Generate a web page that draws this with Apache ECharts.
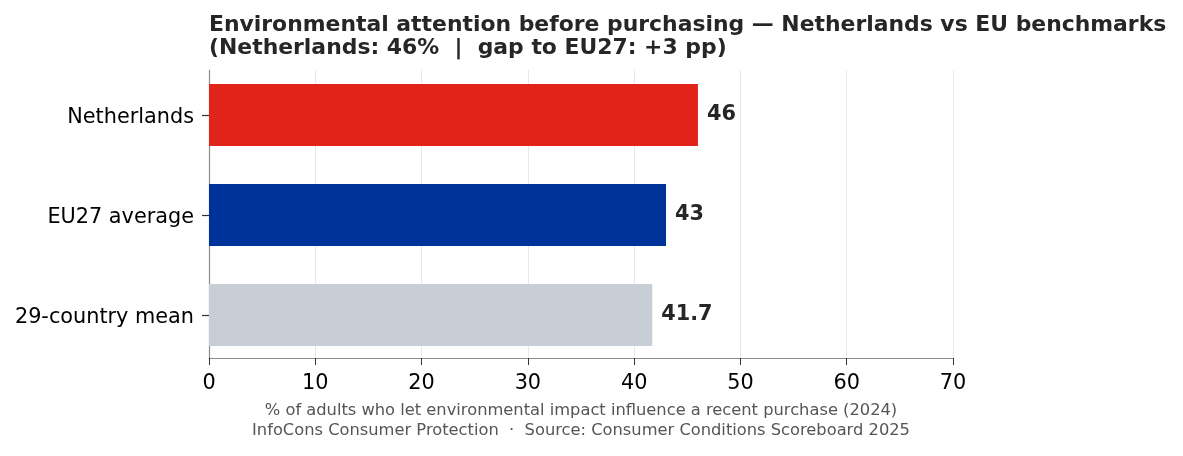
<!DOCTYPE html>
<html>
<head>
<meta charset="utf-8">
<script src="https://cdn.jsdelivr.net/npm/echarts@6/dist/echarts.min.js"></script>
<style>
    html, body { margin: 0; padding: 0; background: #ffffff; }
    #chart { width: 1183px; height: 456px; }
</style>
</head>
<body>
<div id="chart"></div>
<script>
var categories = ['Netherlands', 'EU27 average', '29-country mean']
var values = [46, 43, 41.7]
var barColors = ['#e2231a', '#003399', '#c8ced6']
var xTicks = [0, 10, 20, 30, 40, 50, 60, 70]

var chart = echarts.init(document.getElementById('chart'))
var font = 'DejaVu Sans'

let option = {
    animation: false,
    textStyle: { fontFamily: font },
    title: {
        text: 'Environmental attention before purchasing \u2014 Netherlands vs EU benchmarks\n(Netherlands: 46%  |  gap to EU27: +3 pp)',
        left: 204,
        top: 9,
        textStyle: {
            fontFamily: font,
            fontSize: 21.9,
            fontWeight: 'bold',
            color: '#262626',
            lineHeight: 23
        }
    },
    graphic: [
        {
            type: 'text',
            x: 581,
            y: 421,
            style: {
                text: '% of adults who let environmental impact influence a recent purchase (2024)\nInfoCons Consumer Protection  \u00b7  Source: Consumer Conditions Scoreboard 2025',
                align: 'center',
                verticalAlign: 'middle',
                font: '16.3px "DejaVu Sans"',
                lineHeight: 20,
                fill: '#555555'
            }
        }
    ],
    // grid 0 carries the frame (spines, x ticks, grid lines); grid 1 carries the bars
    grid: [
        { left: 209, right: 1183 - 953, top: 70, bottom: 456 - 358, containLabel: false },
        { left: 209, right: 1183 - 953, top: 65, bottom: 456 - 365, containLabel: false }
    ],
    xAxis: [
        {
            gridIndex: 0,
            type: 'value',
            min: xTicks[0],
            max: xTicks[xTicks.length - 1],
            interval: 10,
            axisLine: { show: true, lineStyle: { color: '#8c8c8c', width: 1.2 } },
            axisTick: { show: true, length: 7, lineStyle: { color: '#333333' } },
            axisLabel: { color: '#000000', fontSize: 20.8, margin: 15, fontFamily: font },
            splitLine: { show: true, lineStyle: { color: '#e8e8e8', width: 1 } }
        },
        {
            gridIndex: 1,
            type: 'value',
            min: xTicks[0],
            max: xTicks[xTicks.length - 1],
            show: false
        }
    ],
    yAxis: [
        {
            gridIndex: 0,
            type: 'value',
            min: 0,
            max: 1,
            axisLine: { show: true, lineStyle: { color: '#8c8c8c', width: 1.2 } },
            axisTick: { show: false },
            axisLabel: { show: false },
            splitLine: { show: false }
        },
        {
            gridIndex: 1,
            type: 'category',
            inverse: true,
            data: categories,
            axisLine: { show: false },
            axisTick: { show: true, alignWithLabel: true, length: 7, lineStyle: { color: '#333333', width: 1.2 } },
            axisLabel: {
                margin: 15,
                formatter: '{c|{value}}',
                rich: {
                    c: { color: '#000000', fontSize: 20.8, fontFamily: font, padding: [6, 0, 0, 0] }
                }
            },
            splitLine: { show: false }
        }
    ],
    series: [
        {
            type: 'bar',
            xAxisIndex: 1,
            yAxisIndex: 1,
            barWidth: 62,
            data: values.map(function (v, i) {
                return { value: v, itemStyle: { color: barColors[i] } }
            }),
            label: {
                show: true,
                position: 'right',
                distance: 9,
                color: '#262626',
                fontSize: 20.8,
                fontWeight: 'bold',
                fontFamily: font
            }
        }
    ]
}
chart.setOption(option)
</script>
</body>
</html>
